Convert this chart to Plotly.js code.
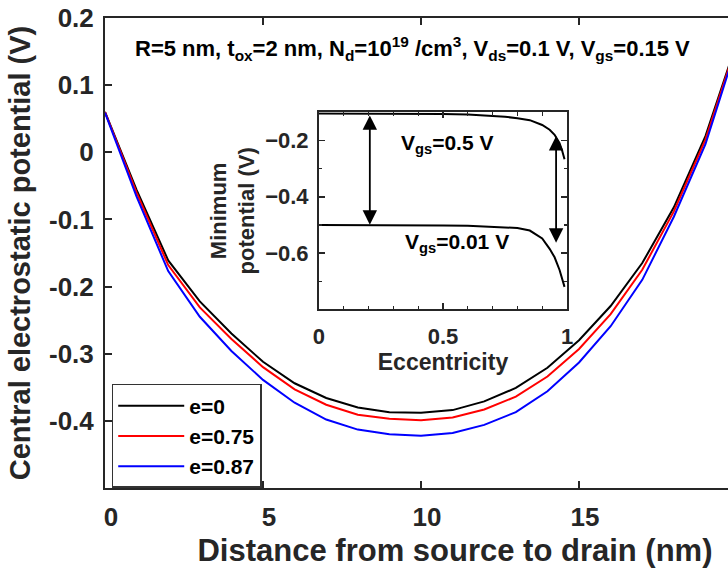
<!DOCTYPE html>
<html>
<head>
<meta charset="utf-8">
<script src="https://cdn.plot.ly/plotly-3.0.1.min.js"></script>
<style>
html,body{margin:0;padding:0;background:#fff;overflow:hidden;}
#frame{width:728px;height:570px;overflow:hidden;position:relative;}
#chart{width:805px;height:570px;}
</style>
</head>
<body>
<div id="frame"><div id="chart"></div></div>
<script>
// Main chart data
const distance = [0,1,2,3,4,5,6,7,8,9,10,11,12,13,14,15,16,17,18,19,20];
const potE0 = [0.060,-0.056,-0.161,-0.222,-0.270,-0.312,-0.344,-0.366,-0.380,-0.387,-0.388,-0.384,-0.371,-0.351,-0.321,-0.280,-0.229,-0.165,-0.082,0.024,0.165];
const potE075 = [0.060,-0.060,-0.168,-0.231,-0.278,-0.320,-0.353,-0.376,-0.391,-0.397,-0.399,-0.395,-0.383,-0.364,-0.334,-0.293,-0.241,-0.175,-0.088,0.019,0.163];
const potE087 = [0.059,-0.066,-0.177,-0.245,-0.296,-0.339,-0.373,-0.398,-0.413,-0.420,-0.422,-0.418,-0.406,-0.387,-0.356,-0.313,-0.259,-0.190,-0.096,0.012,0.160];
const seriesNames = ['e=0','e=0.75','e=0.87'];
const xTicks = [0,5,10,15];
const yTicks = [0.2,0.1,0,-0.1,-0.2,-0.3,-0.4];

// Inset data
const ecc = [0,0.2,0.4,0.5,0.6,0.7,0.75,0.8,0.85,0.9,0.93,0.95,0.97,0.98,0.99];
const minPotVgs05 = [-0.104,-0.104,-0.105,-0.106,-0.108,-0.112,-0.116,-0.121,-0.128,-0.145,-0.162,-0.180,-0.210,-0.235,-0.267];
const minPotVgs001 = [-0.500,-0.500,-0.501,-0.502,-0.503,-0.506,-0.508,-0.511,-0.520,-0.548,-0.585,-0.615,-0.660,-0.695,-0.720];
const insetXTicks = [0,0.5,1];
const insetXTickLabels = ['0','0.5','1'];
const insetYTicks = [-0.2,-0.4,-0.6];
// Arrow endpoints (eccentricity, top, bottom)
const arrowX = [0.205, 0.956];
const arrowTop = [-0.106, -0.179];
const arrowBottom = [-0.499, -0.563];

const FONT = 'Liberation Sans, Arial, Helvetica, sans-serif';
const TXT = '#262626';
const AX = '#262626';

const colors = ['#000000','#ff0000','#0000ff'];
const ys = [potE0, potE075, potE087];
const traces = ys.map((y,i)=>({
  x: distance, y: y, type:'scatter', mode:'lines', name: seriesNames[i],
  line:{color:colors[i], width:2}, xaxis:'x', yaxis:'y', cliponaxis:true
}));
traces.push({x:ecc, y:minPotVgs05, type:'scatter', mode:'lines', showlegend:false,
  line:{color:'#000', width:2}, xaxis:'x2', yaxis:'y2'});
traces.push({x:ecc, y:minPotVgs001, type:'scatter', mode:'lines', showlegend:false,
  line:{color:'#000', width:2}, xaxis:'x2', yaxis:'y2'});

const annotations = [
  {xref:'paper', yref:'paper', x:0.4386, y:0.936, xanchor:'center', yanchor:'middle', showarrow:false,
   text:'R=5 nm, t<sub>ox</sub>=2 nm, N<sub>d</sub>=10<sup>19</sup> /cm<sup>3</sup>, V<sub>ds</sub>=0.1 V, V<sub>gs</sub>=0.15 V',
   font:{family:FONT, size:22, color:'#000', weight:'bold'}},
  {xref:'x2', yref:'y2', x:0.515, y:-0.213, showarrow:false, xanchor:'center', yanchor:'middle',
   text:'V<sub>gs</sub>=0.5 V', font:{family:FONT, size:21, color:'#000', weight:'bold'}},
  {xref:'x2', yref:'y2', x:0.557, y:-0.565, showarrow:false, xanchor:'center', yanchor:'middle',
   text:'V<sub>gs</sub>=0.01 V', font:{family:FONT, size:21, color:'#000', weight:'bold'}}
];
for (let i=0;i<arrowX.length;i++){
  annotations.push({xref:'x2', yref:'y2', axref:'x2', ayref:'y2', x:arrowX[i], y:arrowBottom[i],
    ax:arrowX[i], ay:arrowTop[i], text:'', showarrow:true, arrowhead:2, startarrowhead:2,
    arrowside:'end+start', arrowsize:1.6, startarrowsize:1.6, arrowwidth:1.8, arrowcolor:'#000'});
}

const layout = {
  width:805, height:570,
  margin:{l:105, r:0, t:18, b:82},
  paper_bgcolor:'#fff', plot_bgcolor:'#fff',
  showlegend:true,
  legend:{x:0.0096, y:0.2213, xanchor:'left', yanchor:'top', bgcolor:'#fff',
    bordercolor:'#333', borderwidth:1.5, font:{family:FONT, size:21, color:'#000', weight:'bold'},
    tracegroupgap:0, itemwidth:66},
  xaxis:{domain:[0,1], range:[0,22.15], tickvals:xTicks, ticktext:xTicks.map(String),
    ticks:'inside', ticklen:7, tickwidth:2, tickcolor:AX, showline:true, linecolor:AX, linewidth:2,
    mirror:'ticks', showgrid:false, zeroline:false, ticklabelstandoff:5, ticklabelshift:6,
    tickfont:{family:FONT, size:26, color:TXT, weight:'bold'},
    title:{text:'Distance from source to drain (nm)', standoff:8, font:{family:FONT, size:31, color:TXT, weight:'bold'}}},
  yaxis:{domain:[0,1], range:[-0.5,0.2], tickvals:yTicks, ticktext:yTicks.map(v=>v===0?'0':String(v)),
    ticks:'inside', ticklen:7, tickwidth:2, tickcolor:AX, showline:true, linecolor:AX, linewidth:2,
    mirror:'ticks', showgrid:false, zeroline:false, ticklabelstandoff:4,
    tickfont:{family:FONT, size:26, color:TXT, weight:'bold'},
    title:{text:'Central electrostatic potential (V)', standoff:10, font:{family:FONT, size:29, color:TXT, weight:'bold'}}},
  xaxis2:{domain:[0.3057,0.66], anchor:'y2', range:[0,1], tickvals:insetXTicks, ticktext:insetXTickLabels,
    ticks:'inside', ticklen:6, tickwidth:1.5, tickcolor:AX, showline:true, linecolor:AX, linewidth:2,
    mirror:'ticks', showgrid:false, zeroline:false, ticklabelstandoff:6,
    minor:{dtick:0.1, tick0:0, ticks:'inside', ticklen:3.5, tickwidth:1.2, tickcolor:AX},
    tickfont:{family:FONT, size:22, color:TXT, weight:'bold'},
    title:{text:'Eccentricity', standoff:6, font:{family:FONT, size:23, color:TXT, weight:'bold'}}},
  yaxis2:{domain:[0.380,0.7994], anchor:'x2', range:[-0.8,-0.1], tickvals:insetYTicks,
    ticks:'inside', ticklen:6, tickwidth:1.5, tickcolor:AX, showline:true, linecolor:AX, linewidth:2,
    mirror:'ticks', showgrid:false, zeroline:false, ticklabelstandoff:4,
    minor:{dtick:0.1, tick0:0, ticks:'inside', ticklen:3.5, tickwidth:1.2, tickcolor:AX},
    tickfont:{family:FONT, size:22, color:TXT, weight:'bold'},
    title:{text:'Minimum<br>potential (V)', standoff:4, font:{family:FONT, size:22, color:TXT, weight:'bold'}}},
  annotations: annotations
};

Plotly.newPlot('chart', traces, layout, {displayModeBar:false, staticPlot:true});
</script>
</body>
</html>
